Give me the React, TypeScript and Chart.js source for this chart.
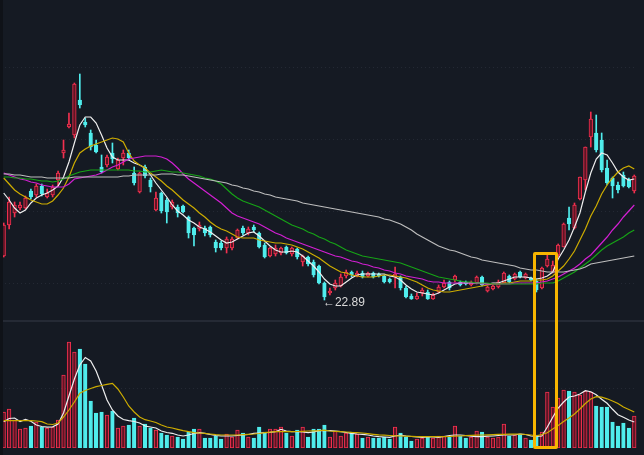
import React, { useEffect, useRef } from "react";
import { Chart, registerables } from "chart.js";
Chart.register(...registerables);

// ---------- data ----------
const opens = [
  25.09, 26.64, 27.24, 27.49, 27.49, 28.34, 28.14, 28.59, 28.04, 28.14,
  28.89, 30.24, 31.54, 31.14, 32.89, 31.79, 31.24, 30.64, 29.54, 29.64,
  30.24, 29.44, 29.99, 30.24, 29.24, 28.29, 29.54, 28.89, 27.39, 28.24,
  27.89, 27.54, 27.54, 27.59, 27.04, 26.49, 26.44, 26.49, 26.54, 25.79,
  25.74, 25.49, 25.49, 25.99, 26.49, 26.24, 26.54, 26.24, 25.64, 25.09,
  25.19, 25.24, 25.54, 25.19, 25.44, 24.79, 25.04, 24.79, 24.59, 23.74,
  23.24, 23.49, 23.59, 24.09, 24.29, 24.09, 24.24, 24.09, 24.24, 24.19,
  24.09, 23.94, 24.04, 24.04, 23.49, 23.09, 22.94, 23.24, 23.29, 22.94,
  23.29, 23.54, 23.79, 23.89, 23.79, 23.79, 23.64, 23.74, 24.04, 23.34,
  23.44, 23.54, 23.74, 24.09, 23.94, 24.29, 23.99, 23.99, 23.84, 23.49,
  24.59, 24.29, 25.14, 25.54, 26.99, 26.49, 27.94, 28.89, 31.04, 31.24,
  30.89, 29.49, 28.99, 28.64, 29.14, 28.89, 28.34,
];
const highs = [
  26.74, 28.04, 27.79, 27.79, 28.09, 28.44, 28.69, 28.69, 28.44, 28.64,
  29.34, 30.89, 32.24, 33.74, 34.19, 31.99, 31.39, 30.89, 30.14, 30.14,
  30.74, 29.99, 30.39, 30.39, 29.54, 29.29, 29.64, 28.99, 28.29, 28.29,
  27.99, 27.89, 27.64, 27.64, 27.09, 26.54, 26.79, 26.59, 26.59, 25.89,
  25.84, 26.04, 26.04, 26.44, 26.59, 26.54, 26.64, 26.29, 25.74, 25.54,
  25.64, 25.54, 25.59, 25.54, 25.49, 25.14, 25.09, 24.89, 24.64, 23.79,
  23.49, 23.89, 24.19, 24.39, 24.34, 24.34, 24.34, 24.29, 24.29, 24.24,
  24.14, 23.99, 24.54, 24.09, 23.59, 23.19, 23.24, 23.49, 23.39, 23.24,
  23.64, 23.89, 23.84, 24.14, 23.84, 23.84, 23.84, 24.09, 24.09, 23.59,
  23.64, 23.89, 24.29, 24.14, 24.24, 24.34, 24.24, 24.04, 23.94, 24.54,
  25.14, 24.84, 25.69, 26.74, 27.54, 27.74, 29.04, 30.54, 32.29, 32.14,
  31.24, 29.89, 29.04, 28.79, 29.29, 28.99, 29.14,
];
const lows = [
  25.04, 26.44, 27.04, 27.39, 27.44, 27.94, 28.04, 28.09, 27.99, 28.04,
  28.59, 29.99, 31.49, 30.99, 32.49, 31.54, 30.39, 30.24, 29.24, 29.54,
  29.74, 29.39, 29.64, 29.89, 28.64, 28.24, 28.99, 28.29, 27.34, 27.24,
  26.74, 27.44, 27.04, 27.24, 25.99, 25.59, 26.34, 26.09, 26.04, 25.29,
  25.39, 25.24, 25.39, 25.94, 26.14, 26.14, 26.29, 25.49, 24.99, 25.04,
  25.09, 25.14, 25.19, 25.09, 24.94, 24.59, 24.59, 24.04, 23.69, 22.89,
  23.14, 23.39, 23.54, 23.99, 24.04, 24.04, 23.99, 24.04, 23.99, 24.04,
  23.74, 23.74, 23.49, 23.39, 22.99, 22.92, 22.92, 23.09, 22.92, 22.92,
  23.24, 23.49, 23.39, 23.79, 23.59, 23.64, 23.59, 23.69, 23.59, 23.29,
  23.39, 23.49, 23.74, 23.74, 23.89, 23.99, 23.94, 23.84, 23.29, 23.44,
  24.54, 24.24, 25.04, 25.54, 26.39, 26.44, 27.89, 28.39, 30.54, 30.29,
  29.29, 28.64, 27.99, 28.24, 28.54, 28.49, 28.24,
];
const closes = [
  26.64, 27.79, 27.64, 27.64, 27.99, 28.04, 28.59, 28.19, 28.24, 28.54,
  29.24, 30.39, 31.69, 33.69, 32.64, 31.64, 30.54, 30.29, 29.29, 30.04,
  29.94, 29.89, 30.24, 29.99, 28.74, 29.24, 29.09, 28.54, 27.99, 27.34,
  27.29, 27.79, 27.24, 27.29, 26.24, 26.14, 26.64, 26.24, 26.14, 25.49,
  25.49, 25.94, 25.94, 26.39, 26.24, 26.44, 26.39, 25.54, 25.04, 25.49,
  25.49, 25.49, 25.24, 25.49, 25.04, 25.09, 24.69, 24.14, 23.74, 23.04,
  23.34, 23.74, 24.04, 24.29, 24.14, 24.24, 24.04, 24.24, 24.04, 24.09,
  23.79, 23.79, 24.19, 23.49, 23.04, 22.94, 23.09, 23.39, 22.94, 23.14,
  23.54, 23.74, 23.49, 24.09, 23.64, 23.69, 23.79, 24.04, 23.64, 23.54,
  23.59, 23.79, 24.24, 23.79, 24.19, 24.04, 24.19, 23.89, 23.39, 24.49,
  24.94, 24.64, 25.64, 26.69, 26.69, 27.64, 29.04, 30.54, 31.94, 30.39,
  29.39, 28.74, 28.59, 28.39, 28.59, 28.54, 29.09,
];
const volumes = [
  36, 39, 28, 19, 20, 22, 26, 21, 20, 21,
  28, 73, 106, 96, 99, 84, 47, 35, 36, 33,
  37, 20, 22, 23, 30, 22, 24, 20, 18, 15,
  13, 12, 11, 9, 16, 19, 19, 10, 10, 12,
  9, 14, 11, 18, 15, 11, 10, 21, 16, 19,
  19, 21, 15, 12, 18, 21, 11, 19, 19, 23,
  11, 17, 12, 15, 16, 14, 10, 11, 10, 10,
  11, 9, 21, 15, 11, 7, 9, 10, 11, 10,
  12, 12, 11, 22, 12, 10, 11, 17, 16, 11,
  10, 11, 24, 12, 13, 14, 10, 8, 13, 16,
  56, 41, 50, 58, 57, 56, 53, 57, 56, 42,
  41, 41, 26, 22, 25, 20, 32,
];
const ma5 = [
  28.24, 27.89, 27.49, 27.24, 27.39, 27.74, 27.99, 28.14, 28.24, 28.39,
  28.59, 29.04, 29.79, 30.74, 31.64, 32.04, 32.04, 31.74, 31.14, 30.49,
  30.04, 29.89, 29.89, 29.89, 29.74, 29.64, 29.49, 29.14, 28.74, 28.39,
  28.04, 27.64, 27.34, 27.14, 26.89, 26.74, 26.54, 26.44, 26.29, 26.09,
  25.89, 25.74, 25.79, 25.94, 26.09, 26.24, 26.29, 26.09, 25.84, 25.59,
  25.39, 25.29, 25.29, 25.34, 25.29, 25.09, 24.84, 24.59, 24.29, 23.94,
  23.69, 23.59, 23.59, 23.79, 23.99, 24.14, 24.19, 24.19, 24.19, 24.19,
  24.19, 24.09, 24.04, 23.89, 23.64, 23.44, 23.29, 23.24, 23.19, 23.14,
  23.24, 23.39, 23.54, 23.69, 23.74, 23.74, 23.74, 23.74, 23.74, 23.69,
  23.74, 23.74, 23.84, 23.94, 24.04, 24.04, 24.04, 23.99, 23.94, 23.99,
  24.09, 24.29, 24.94, 25.39, 25.89, 26.54, 27.24, 28.29, 29.24, 29.94,
  30.24, 30.14, 29.74, 29.29, 29.04, 28.89, 28.94,
];
const ma10 = [
  28.99, 28.69, 28.39, 28.19, 28.04, 27.89, 27.79, 27.69, 27.69, 27.84,
  28.14, 28.49, 29.04, 29.74, 30.24, 30.44, 30.59, 30.69, 30.79, 30.89,
  30.99, 30.94, 30.79, 30.24, 29.84, 29.64, 29.49, 29.24, 29.04, 28.84,
  28.59, 28.39, 28.14, 27.89, 27.69, 27.49, 27.24, 27.04, 26.79, 26.59,
  26.44, 26.34, 26.19, 26.04, 25.99, 25.99, 25.99, 25.89, 25.84, 25.79,
  25.74, 25.74, 25.69, 25.64, 25.54, 25.44, 25.29, 25.14, 24.99, 24.79,
  24.59, 24.44, 24.29, 24.24, 24.14, 24.09, 24.04, 24.04, 24.04, 24.09,
  24.14, 24.14, 24.09, 24.04, 23.99, 23.89, 23.79, 23.64, 23.49, 23.39,
  23.34, 23.29, 23.29, 23.34, 23.39, 23.44, 23.49, 23.54, 23.59, 23.64,
  23.69, 23.69, 23.74, 23.74, 23.79, 23.84, 23.84, 23.84, 23.89, 23.89,
  23.94, 24.09, 24.34, 24.59, 24.94, 25.34, 25.89, 26.44, 27.09, 27.59,
  28.19, 28.64, 28.99, 29.29, 29.49, 29.59, 29.44,
];
const ma20 = [
  29.24, 29.14, 29.04, 28.94, 28.89, 28.79, 28.74, 28.64, 28.59, 28.54,
  28.54, 28.54, 28.69, 28.94, 28.99, 29.04, 29.09, 29.14, 29.24, 29.39,
  29.54, 29.64, 29.79, 29.94, 29.99, 30.04, 30.09, 30.09, 30.09, 30.04,
  29.94, 29.74, 29.49, 29.19, 28.94, 28.74, 28.54, 28.34, 28.14, 27.94,
  27.74, 27.49, 27.24, 27.09, 26.99, 26.89, 26.79, 26.69, 26.54, 26.39,
  26.24, 26.14, 25.99, 25.89, 25.79, 25.69, 25.59, 25.49, 25.39, 25.29,
  25.19, 25.09, 25.04, 24.94, 24.84, 24.79, 24.69, 24.64, 24.54, 24.49,
  24.39, 24.34, 24.24, 24.19, 24.09, 24.04, 23.99, 23.94, 23.84, 23.79,
  23.79, 23.74, 23.74, 23.74, 23.74, 23.74, 23.74, 23.74, 23.69, 23.69,
  23.69, 23.69, 23.69, 23.69, 23.74, 23.74, 23.74, 23.74, 23.74, 23.79,
  23.84, 23.94, 24.04, 24.19, 24.34, 24.49, 24.69, 24.94, 25.14, 25.44,
  25.74, 26.04, 26.39, 26.69, 27.04, 27.34, 27.64,
];
const ma30 = [
  29.04, 29.04, 28.99, 28.99, 28.94, 28.94, 28.89, 28.84, 28.84, 28.79,
  28.84, 28.94, 29.09, 29.19, 29.29, 29.34, 29.39, 29.39, 29.39, 29.39,
  29.39, 29.39, 29.39, 29.39, 29.34, 29.34, 29.29, 29.29, 29.34, 29.39,
  29.34, 29.29, 29.29, 29.24, 29.19, 29.14, 29.09, 28.99, 28.94, 28.84,
  28.69, 28.44, 28.19, 27.99, 27.84, 27.74, 27.64, 27.54, 27.39, 27.24,
  27.09, 26.94, 26.79, 26.64, 26.54, 26.44, 26.29, 26.19, 26.04, 25.94,
  25.79, 25.69, 25.54, 25.39, 25.29, 25.19, 25.09, 25.04, 24.99, 24.94,
  24.89, 24.84, 24.79, 24.74, 24.64, 24.54, 24.44, 24.34, 24.24, 24.14,
  24.04, 23.99, 23.94, 23.89, 23.84, 23.79, 23.79, 23.74, 23.74, 23.74,
  23.69, 23.69, 23.69, 23.69, 23.69, 23.69, 23.69, 23.69, 23.69, 23.74,
  23.74, 23.74, 23.84, 23.99, 24.14, 24.29, 24.49, 24.69, 24.89, 25.14,
  25.39, 25.59, 25.74, 25.89, 26.04, 26.24, 26.39,
];
const ma60 = [
  29.19, 29.19, 29.14, 29.14, 29.09, 29.04, 29.04, 29.04, 28.99, 28.99,
  28.99, 28.99, 28.99, 29.04, 29.04, 29.04, 29.04, 29.04, 29.04, 29.04,
  29.04, 29.04, 29.09, 29.09, 29.14, 29.14, 29.14, 29.14, 29.14, 29.19,
  29.19, 29.19, 29.14, 29.14, 29.09, 29.04, 28.99, 28.94, 28.89, 28.84,
  28.79, 28.74, 28.64, 28.59, 28.49, 28.44, 28.34, 28.29, 28.19, 28.14,
  28.04, 27.99, 27.94, 27.89, 27.84, 27.74, 27.69, 27.64, 27.59, 27.54,
  27.49, 27.44, 27.39, 27.34, 27.29, 27.24, 27.19, 27.14, 27.09, 27.04,
  26.94, 26.89, 26.79, 26.69, 26.54, 26.39, 26.19, 26.04, 25.89, 25.74,
  25.59, 25.49, 25.39, 25.34, 25.24, 25.14, 25.04, 24.99, 24.89, 24.84,
  24.79, 24.74, 24.69, 24.64, 24.59, 24.49, 24.44, 24.39, 24.39, 24.34,
  24.29, 24.29, 24.29, 24.29, 24.34, 24.39, 24.44, 24.54, 24.69, 24.74,
  24.79, 24.84, 24.89, 24.94, 24.99, 25.04, 25.09,
];
const volMa5 = [
  26.3, 29.5, 30, 26.5, 28.5, 26.7, 23, 21.5, 20.8, 21.2,
  24, 35, 52, 69, 83, 90.5, 87, 77, 63, 48,
  38, 32, 28.5, 27.3, 26.5, 25, 22, 21, 20, 17,
  15.5, 14.7, 13, 12, 13, 14.5, 15.3, 14.7, 13.5, 12.5,
  12, 12, 12, 12.5, 13, 13.5, 14.7, 15, 15.3, 15.7,
  16.3, 18.7, 17, 16.3, 16.3, 16, 15.3, 16, 17.3, 17.3,
  17.3, 16.8, 16.3, 15.5, 14.7, 14, 13.7, 13, 12, 11.3,
  11, 10.7, 12, 13, 12, 11.5, 11, 10.7, 11, 11.2,
  10.7, 11.5, 12.5, 13, 13, 12.5, 11.8, 11.3, 11.3, 11.8,
  12, 12.5, 13, 13, 13, 14, 13.5, 12, 11.5, 12,
  21, 30.7, 40, 46, 51, 52, 54, 57.3, 56.3, 53.3,
  48.7, 44.7, 38.7, 33.3, 30.7, 28, 26,
];
const volMa10 = [
  27.3, 27.3, 27.3, 27.3, 27.3, 27.3, 27, 26.3, 24, 23.5,
  25, 31, 38, 46, 54.7, 57.5, 59.5, 61.3, 62.5, 63.7,
  64.7, 59, 51, 42, 36, 31, 28.3, 27, 25.5, 23,
  21, 20, 18.7, 17.3, 16.3, 15.3, 15, 14.7, 14, 13.3,
  13, 13, 13, 13, 13.3, 13.7, 14, 14.5, 15.3, 15.8,
  16.3, 16.3, 16.3, 16.3, 16.5, 16.7, 17, 17.2, 17.3, 17.8,
  17, 16.6, 16.3, 16, 15.6, 15.4, 15, 14.3, 13.7, 13.1,
  12.8, 12.5, 12.2, 12, 11.8, 11.6, 11.4, 11.3, 11.3, 11.3,
  11.3, 11.3, 11.5, 11.8, 12, 12.3, 12.6, 12.9, 13, 13.2,
  13.4, 13.6, 13.7, 13.8, 13.9, 14, 13.5, 13, 12.2, 13.5,
  15.3, 19, 22.5, 26.5, 30, 34, 39, 44.5, 49, 51.3,
  50.8, 49.2, 47, 44.5, 41, 38.5, 36,
];
const labels = opens.map((_, i) => "D" + (i + 1));
const priceGrid = [34.54, 30.94, 27.34, 23.74];
const volumeGrid = [60];

// ---------- styles ----------
const BG = "#151a23";
const UP = "#f2304f";
const UP_FILL = "#5e1424";
const DOWN = "#50eded";
const C_MA5 = "#eeeeee";
const C_MA10 = "#cdac00";
const C_MA20 = "#d21fd2";
const C_MA30 = "#16a316";
const C_MA60 = "#bdbdbd";

const dotGrid = (levels: number[]) => ({
  id: "dotGrid",
  beforeDatasetsDraw(chart: any) {
    const { ctx, chartArea, scales } = chart;
    ctx.save();
    ctx.strokeStyle = "#242934";
    ctx.lineWidth = 1;
    ctx.setLineDash([1, 3]);
    levels.forEach((v) => {
      const y = Math.round(scales.y.getPixelForValue(v)) + 0.5;
      ctx.beginPath();
      ctx.moveTo(chartArea.left, y);
      ctx.lineTo(chartArea.right, y);
      ctx.stroke();
    });
    ctx.restore();
  },
});

const lowLabel = {
  id: "lowLabel",
  afterDatasetsDraw(chart: any) {
    const { ctx, scales } = chart;
    let idx = 0;
    lows.forEach((v, i) => {
      if (v < lows[idx]) idx = i;
    });
    const x = scales.x.getPixelForValue(idx);
    const y = scales.y.getPixelForValue(lows[idx]);
    ctx.save();
    ctx.font = '12px "Liberation Sans", Arial, sans-serif';
    ctx.fillStyle = "#dadada";
    ctx.textAlign = "left";
    ctx.textBaseline = "middle";
    ctx.fillText("\u2190" + lows[idx].toFixed(2), x - 1.5, y + 2.5);
    ctx.restore();
  },
};

const lineDs = (data: number[], color: string) => ({
  type: "line" as const,
  data,
  borderColor: color,
  borderWidth: 1.2,
  pointRadius: 0,
  tension: 0,
  order: 0,
});

export default function App() {
  const mainRef = useRef<HTMLCanvasElement>(null);
  const volRef = useRef<HTMLCanvasElement>(null);

  useEffect(() => {
    document.body.style.margin = "0";
    document.body.style.background = BG;
    const up = closes.map((c, i) => c >= opens[i]);

    const common = {
      animation: false as const,
      responsive: false,
      events: [],
      layout: { padding: { left: 1, right: 7, top: 0, bottom: 0 } },
      plugins: { legend: { display: false }, tooltip: { enabled: false } },
    };

    const main = new Chart(mainRef.current!, {
      type: "bar",
      data: {
        labels,
        datasets: [
          lineDs(ma60, C_MA60),
          lineDs(ma30, C_MA30),
          lineDs(ma20, C_MA20),
          lineDs(ma10, C_MA10),
          lineDs(ma5, C_MA5),
          {
            type: "bar",
            data: opens.map((o, i) => [Math.min(o, closes[i]), Math.max(o, closes[i])]),
            backgroundColor: up.map((u) => (u ? UP_FILL : DOWN)),
            borderColor: up.map((u) => (u ? UP : DOWN)),
            borderWidth: 1,
            borderSkipped: false,
            barThickness: 3.6,
            minBarLength: 1,
            grouped: false,
            order: 1,
          },
          {
            type: "bar",
            data: lows.map((l, i) => [l, highs[i]]),
            backgroundColor: up.map((u) => (u ? UP : DOWN)),
            borderWidth: 0,
            barThickness: 1,
            grouped: false,
            order: 2,
          },
        ] as any,
      },
      options: {
        ...common,
        scales: {
          x: { display: false, offset: true },
          y: { display: false, min: 21.89, max: 37.89 },
        },
      } as any,
      plugins: [dotGrid(priceGrid), lowLabel],
    });

    const vol = new Chart(volRef.current!, {
      type: "bar",
      data: {
        labels,
        datasets: [
          lineDs(volMa10, C_MA10),
          lineDs(volMa5, C_MA5),
          {
            type: "bar",
            data: volumes,
            backgroundColor: up.map((u) => (u ? UP_FILL : DOWN)),
            borderColor: up.map((u) => (u ? UP : DOWN)),
            borderWidth: 1,
            borderSkipped: false,
            barThickness: 3.6,
            grouped: false,
            order: 1,
          },
        ] as any,
      },
      options: {
        ...common,
        layout: { padding: { left: 1, right: 7, top: 0, bottom: 7 } },
        scales: {
          x: { display: false, offset: true },
          y: { display: false, min: 0, max: 126 },
        },
      } as any,
      plugins: [dotGrid(volumeGrid)],
    });

    return () => {
      main.destroy();
      vol.destroy();
    };
  }, []);

  return (
    <div style={{ position: "relative", width: 644, height: 455, background: BG, overflow: "hidden" }}>
      <canvas ref={mainRef} width={644} height={320} style={{ position: "absolute", left: 0, top: 0 }} />
      <div style={{ position: "absolute", left: 0, top: 320, width: 644, height: 2, background: "#252a35" }} />
      <canvas ref={volRef} width={644} height={133} style={{ position: "absolute", left: 0, top: 322 }} />
      <div style={{ position: "absolute", left: 0, top: 0, width: 3, height: 455, background: "#0f1218" }} />
      <div
        style={{
          position: "absolute",
          left: 533,
          top: 252,
          width: 25,
          height: 197,
          border: "3px solid #f7b500",
          borderRadius: 2,
          boxSizing: "border-box",
        }}
      />
    </div>
  );
}
